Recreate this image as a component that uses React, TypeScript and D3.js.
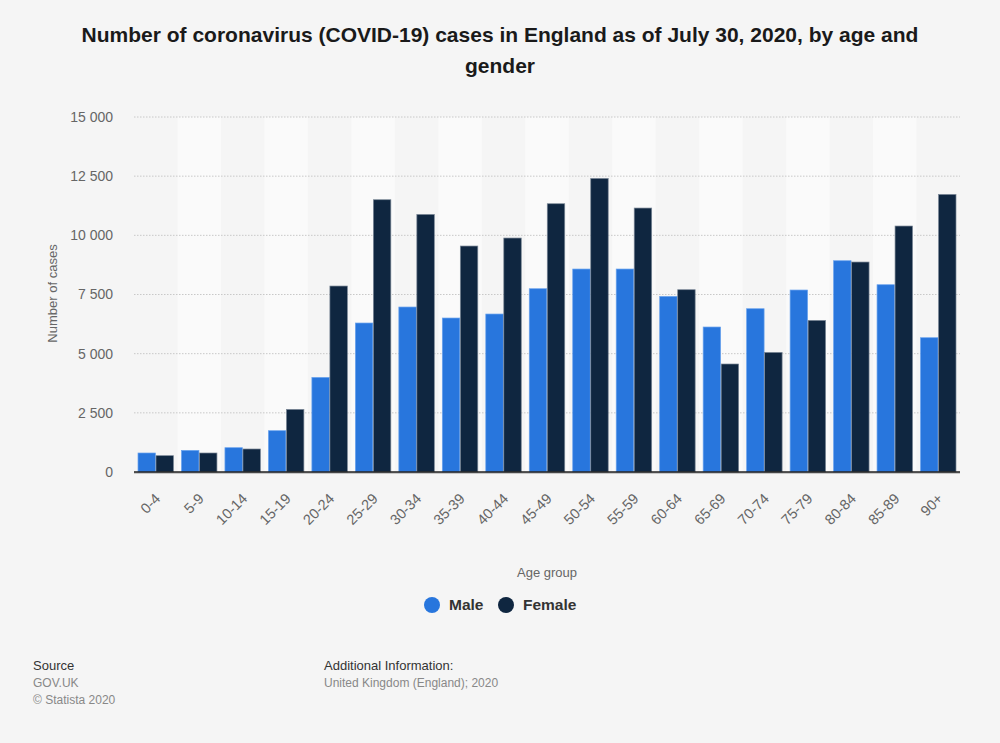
import { useEffect, useRef } from 'react';
import * as d3 from 'd3';

// values
const ageGroups = [
  '0-4', '5-9', '10-14', '15-19', '20-24', '25-29', '30-34', '35-39', '40-44', '45-49',
  '50-54', '55-59', '60-64', '65-69', '70-74', '75-79', '80-84', '85-89', '90+',
];
const maleCases = [
  803, 913, 1027, 1745, 3997, 6295, 6971, 6506, 6675, 7744,
  8576, 8576, 7419, 6126, 6899, 7689, 8927, 7913, 5674,
];
const femaleCases = [
  690, 803, 972, 2645, 7858, 11504, 10883, 9548, 9886, 11335,
  12404, 11153, 7702, 4563, 5053, 6405, 8872, 10393, 11728,
];
const yTicks = [0, 2500, 5000, 7500, 10000, 12500, 15000];
const seriesNames = ['Male', 'Female'];
const seriesColors = ['#2876dd', '#0f2640'];
const seriesStroke = ['#6aa3ee', '#7a8796'];

const FONT = '"Liberation Sans", Arial, Helvetica, sans-serif';

const App = () => {
  const svgRef = useRef<SVGSVGElement>(null);

  useEffect(() => {
    document.body.style.margin = '0';
    if (!svgRef.current) return;
    const svg = d3.select(svgRef.current);
    svg.selectAll('*').remove();

    const width = 1000;
    const height = 743;
    const margin = { left: 134, right: 40, top: 117, bottom: 271 };
    const plotW = width - margin.left - margin.right;
    const plotH = height - margin.top - margin.bottom;

    svg.append('rect').attr('width', width).attr('height', height).attr('fill', '#f5f5f5');

    // title
    const title = svg
      .append('text')
      .attr('text-anchor', 'middle')
      .attr('font-family', FONT)
      .attr('font-weight', 'bold')
      .attr('font-size', 21)
      .attr('fill', '#1a1a1a');
    title.append('tspan').attr('x', 500).attr('y', 42)
      .text('Number of coronavirus (COVID-19) cases in England as of July 30, 2020, by age and');
    title.append('tspan').attr('x', 500).attr('y', 73).text('gender');

    const g = svg.append('g').attr('transform', `translate(${margin.left},${margin.top})`);

    const x = d3.scaleBand().domain(ageGroups).range([0, plotW]).padding(0);
    const y = d3.scaleLinear().domain([0, 15000]).range([plotH, 0]);
    const inner = d3
      .scaleBand()
      .domain(seriesNames)
      .range([4, x.bandwidth() - 4])
      .paddingInner(0.03);

    // alternating stripes
    g.selectAll('.stripe')
      .data(ageGroups.filter((_, i) => i % 2 === 1))
      .enter()
      .append('rect')
      .attr('x', (d) => x(d)!)
      .attr('y', 0)
      .attr('width', x.bandwidth())
      .attr('height', plotH)
      .attr('fill', '#fafafa');

    // grid
    g.selectAll('.grid')
      .data(yTicks.filter((t) => t > 0))
      .enter()
      .append('line')
      .attr('x1', 0)
      .attr('x2', plotW)
      .attr('y1', (d) => y(d))
      .attr('y2', (d) => y(d))
      .attr('stroke', '#c8c8c8')
      .attr('stroke-width', 1)
      .attr('stroke-dasharray', '1.5,1.5');

    // y tick labels
    g.selectAll('.ytick')
      .data(yTicks)
      .enter()
      .append('text')
      .attr('x', -21)
      .attr('y', (d) => y(d))
      .attr('dy', '0.35em')
      .attr('text-anchor', 'end')
      .attr('font-family', FONT)
      .attr('font-size', 14)
      .attr('fill', '#666')
      .text((d) => d3.format(',')(d).replace(',', ' '));

    svg
      .append('text')
      .attr('transform', `translate(57,${margin.top + plotH / 2 - 1}) rotate(-90)`)
      .attr('text-anchor', 'middle')
      .attr('font-family', FONT)
      .attr('font-size', 13)
      .attr('fill', '#666')
      .text('Number of cases');

    // bars
    const series = [maleCases, femaleCases];
    series.forEach((vals, si) => {
      g.selectAll(`.bar-${si}`)
        .data(ageGroups)
        .enter()
        .append('rect')
        .attr('x', (d) => x(d)! + inner(seriesNames[si])!)
        .attr('y', (_, i) => y(vals[i]))
        .attr('width', inner.bandwidth())
        .attr('height', (_, i) => plotH - y(vals[i]))
        .attr('fill', seriesColors[si])
        .attr('stroke', seriesStroke[si])
        .attr('stroke-width', 0.7);
    });

    // baseline
    g.append('line')
      .attr('x1', 0)
      .attr('x2', plotW)
      .attr('y1', plotH + 1)
      .attr('y2', plotH + 1)
      .attr('stroke', '#999')
      .attr('stroke-width', 1);
    g.append('line')
      .attr('x1', 0)
      .attr('x2', plotW)
      .attr('y1', plotH)
      .attr('y2', plotH)
      .attr('stroke', '#222')
      .attr('stroke-width', 1.5);

    // x tick labels
    g.selectAll('.xtick')
      .data(ageGroups)
      .enter()
      .append('text')
      .attr(
        'transform',
        (d) => `translate(${x(d)! + x.bandwidth() / 2 + 2},${plotH + 24}) rotate(-45)`
      )
      .attr('text-anchor', 'end')
      .attr('dy', '0.35em')
      .attr('font-family', FONT)
      .attr('font-size', 14.5)
      .attr('fill', '#666')
      .text((d) => d);

    svg
      .append('text')
      .attr('x', margin.left + plotW / 2)
      .attr('y', 577)
      .attr('text-anchor', 'middle')
      .attr('font-family', FONT)
      .attr('font-size', 13)
      .attr('fill', '#666')
      .text('Age group');

    // legend
    const legendX = [432, 506];
    seriesNames.forEach((name, i) => {
      svg
        .append('circle')
        .attr('cx', legendX[i])
        .attr('cy', 605)
        .attr('r', 8)
        .attr('fill', seriesColors[i]);
      svg
        .append('text')
        .attr('x', legendX[i] + 17)
        .attr('y', 605)
        .attr('dy', '0.35em')
        .attr('font-family', FONT)
        .attr('font-weight', 'bold')
        .attr('font-size', 15.5)
        .attr('fill', '#333')
        .text(name);
    });

    // footer
    const footer = [
      { x: 33, y: 670, text: 'Source', color: '#333' },
      { x: 33, y: 687, text: 'GOV.UK', color: '#888' },
      { x: 33, y: 704, text: '© Statista 2020', color: '#888' },
      { x: 324, y: 670, text: 'Additional Information:', color: '#333' },
      { x: 324, y: 687, text: 'United Kingdom (England); 2020', color: '#888' },
    ];
    svg
      .selectAll('.footer')
      .data(footer)
      .enter()
      .append('text')
      .attr('x', (d) => d.x)
      .attr('y', (d) => d.y)
      .attr('font-family', FONT)
      .attr('font-size', (d, i) => (i === 0 || i === 3 ? 13 : 12))
      .attr('fill', (d) => d.color)
      .text((d) => d.text);
  }, []);

  return <svg ref={svgRef} width={1000} height={743} style={{ display: 'block' }}></svg>;
};

export default App;
